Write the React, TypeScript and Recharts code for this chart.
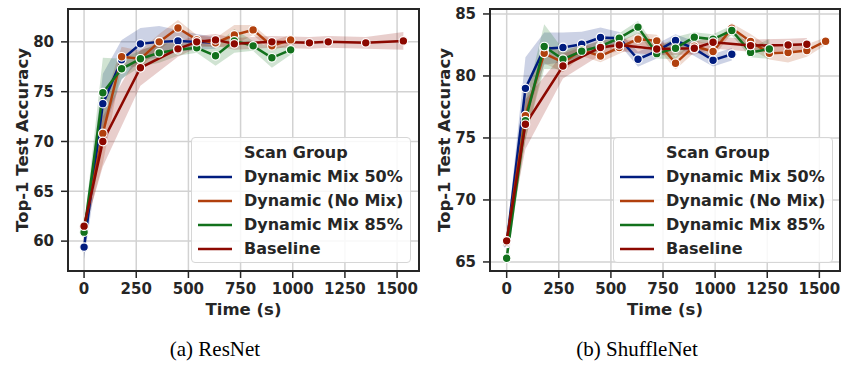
import React from "react";
import {
  ComposedChart,
  Line,
  Area,
  XAxis,
  YAxis,
  CartesianGrid,
  Legend,
  ReferenceArea,
  Label,
} from "recharts";

// ---- tick labels ----
const xTicks = [0, 250, 500, 750, 1000, 1250, 1500];
const resnetYTicks = [60, 65, 70, 75, 80];
const shuffleYTicks = [65, 70, 75, 80, 85];

// ---- series names / colours (seaborn "dark") ----
const groupNames = ["Dynamic Mix 50%", "Dynamic (No Mix)", "Dynamic Mix 85%", "Baseline"];
const groupColors = ["#001c7f", "#b1400d", "#12711c", "#8c0800"];

// ---- (a) ResNet ----
const resMix50Time = [0, 90, 180, 270, 360, 450, 540, 630];
const resMix50Acc = [59.4, 73.8, 78.2, 79.8, 80.0, 80.1, 80.0, 79.9];
const resMix50Ci = [1.2, 3.0, 2.0, 1.6, 1.6, 1.1, 0.8, 0.6];

const resNoMixTime = [0, 90, 180, 270, 360, 450, 540, 630, 720, 810, 900, 990];
const resNoMixAcc = [61.3, 70.8, 78.5, 78.3, 80.0, 81.4, 80.2, 79.9, 80.7, 81.2, 79.6, 80.2];
const resNoMixCi = [0.5, 3.0, 1.0, 0.8, 0.8, 0.8, 0.5, 0.5, 1.0, 0.5, 0.5, 0.5];

const resMix85Time = [0, 90, 180, 270, 360, 450, 540, 630, 720, 810, 900, 990];
const resMix85Acc = [60.9, 74.9, 77.3, 78.3, 78.9, 79.2, 79.4, 78.6, 80.1, 79.6, 78.4, 79.2];
const resMix85Ci = [0.5, 3.5, 1.0, 0.8, 1.0, 0.6, 0.5, 1.0, 1.2, 0.5, 1.0, 0.5];

const resBaseTime = [0, 90, 270, 450, 540, 630, 720, 900, 1080, 1170, 1350, 1530];
const resBaseAcc = [61.5, 70.0, 77.4, 79.3, 80.0, 80.2, 79.8, 80.0, 79.9, 80.0, 79.9, 80.1];
const resBaseCi = [0.5, 2.5, 1.8, 0.8, 0.6, 0.6, 0.6, 0.6, 0.6, 0.6, 0.6, 0.9];

// ---- (b) ShuffleNet ----
const shufMix50Time = [0, 90, 180, 270, 360, 450, 540, 630, 720, 810, 900, 990, 1080];
const shufMix50Acc = [66.5, 79.0, 82.2, 82.3, 82.56, 83.1, 83.05, 81.35, 82.0, 82.86, 82.2, 81.27, 81.75];
const shufMix50Ci = [0.5, 2.5, 1.3, 1.2, 1.0, 0.8, 0.5, 0.6, 0.6, 0.5, 0.6, 0.5, 0.5];

const shufNoMixTime = [0, 90, 180, 270, 360, 450, 540, 630, 720, 810, 900, 990, 1080, 1170, 1260, 1350, 1440, 1530];
const shufNoMixAcc = [66.6, 76.8, 81.83, 81.1, 82.1, 81.6, 82.3, 82.97, 82.83, 81.02, 82.4, 81.97, 83.86, 82.78, 81.83, 81.89, 82.05, 82.8];
const shufNoMixCi = [0.4, 2.0, 0.8, 0.8, 0.5, 0.5, 0.5, 0.5, 0.5, 0.5, 0.5, 0.5, 0.4, 0.6, 0.5, 0.8, 0.5, 0.3];

const shufMix85Time = [0, 90, 180, 270, 360, 450, 540, 630, 720, 810, 900, 990, 1080, 1170, 1260];
const shufMix85Acc = [65.3, 76.4, 82.37, 81.35, 82.0, 82.4, 83.05, 83.94, 81.8, 82.24, 83.13, 82.97, 83.67, 81.9, 82.18];
const shufMix85Ci = [0.4, 1.5, 1.8, 0.8, 0.4, 0.4, 0.4, 0.5, 0.4, 0.9, 0.4, 0.4, 0.4, 0.4, 0.8];

const shufBaseTime = [0, 90, 270, 450, 540, 720, 900, 990, 1170, 1350, 1440];
const shufBaseAcc = [66.7, 76.1, 80.8, 82.3, 82.5, 82.18, 82.24, 82.72, 82.45, 82.5, 82.56];
const shufBaseCi = [0.4, 2.0, 1.0, 0.6, 0.5, 0.5, 0.5, 0.5, 0.5, 0.5, 0.5];

type Point = { t: number; acc: number; band: [number, number] };

const build = (times: number[], acc: number[], ci: number[]): Point[] =>
  times.map((t, i) => ({ t, acc: acc[i], band: [acc[i] - ci[i], acc[i] + ci[i]] }));

const resnetSeries = [
  build(resMix50Time, resMix50Acc, resMix50Ci),
  build(resNoMixTime, resNoMixAcc, resNoMixCi),
  build(resMix85Time, resMix85Acc, resMix85Ci),
  build(resBaseTime, resBaseAcc, resBaseCi),
];

const shuffleSeries = [
  build(shufMix50Time, shufMix50Acc, shufMix50Ci),
  build(shufNoMixTime, shufNoMixAcc, shufNoMixCi),
  build(shufMix85Time, shufMix85Acc, shufMix85Ci),
  build(shufBaseTime, shufBaseAcc, shufBaseCi),
];

const FONT = "'DejaVu Sans', sans-serif";
const INK = "#262626";

const LegendBox = () => (
  <div
    style={{
      boxSizing: "border-box",
      width: "100%",
      height: "100%",
      border: "1px solid #d6d6d6",
      borderRadius: 4,
      background: "rgba(255,255,255,0.85)",
      paddingTop: 3,
      paddingLeft: 6,
      fontFamily: FONT,
      fontWeight: "bold",
      fontSize: 16,
      color: INK,
      lineHeight: "24px",
    }}
  >
    <div style={{ paddingLeft: 46 }}>Scan Group</div>
    {groupNames.map((name, i) => (
      <div key={name} style={{ display: "flex", alignItems: "center", height: 24 }}>
        <svg width={34} height={6} style={{ marginRight: 12 }}>
          <line x1={0} y1={3} x2={34} y2={3} stroke={groupColors[i]} strokeWidth={2.5} />
        </svg>
        <span>{name}</span>
      </div>
    ))}
  </div>
);

interface PanelProps {
  series: Point[][];
  yDomain: [number, number];
  yTicks: number[];
  xDomain: [number, number];
  width: number;
  yAxisWidth: number;
  marginRight: number;
  legendPos: { left: number; top: number; width: number };
}

const Panel = ({ series, yDomain, yTicks, xDomain, width, yAxisWidth, marginRight, legendPos }: PanelProps) => {
  const tickStyle = { fill: INK, fontSize: 15, fontWeight: "bold", fontFamily: FONT };
  return (
    <ComposedChart width={width} height={330} margin={{ top: 9, right: marginRight, bottom: 0, left: 0 }}>
      <CartesianGrid stroke="#d2d2d2" strokeWidth={1.5} />
      <XAxis
        dataKey="t"
        type="number"
        domain={xDomain}
        ticks={xTicks}
        allowDataOverflow
        height={59}
        tick={tickStyle}
        tickSize={7}
        tickMargin={5}
        tickLine={{ stroke: INK, strokeWidth: 1.5 }}
        axisLine={{ stroke: INK, strokeWidth: 2 }}
      >
        <Label
          content={(p: any) => {
            const vb = p.viewBox;
            return (
              <text
                x={vb.x + vb.width / 2}
                y={vb.y + 44}
                textAnchor="middle"
                fill={INK}
                fontSize={16.5}
                fontWeight="bold"
                fontFamily={FONT}
              >
                Time (s)
              </text>
            );
          }}
        />
      </XAxis>
      <YAxis
        type="number"
        domain={yDomain}
        ticks={yTicks}
        allowDataOverflow
        width={yAxisWidth}
        tick={tickStyle}
        tickSize={7}
        tickMargin={7}
        tickLine={{ stroke: INK, strokeWidth: 1.5 }}
        axisLine={{ stroke: INK, strokeWidth: 2 }}
      >
        <Label
          content={(p: any) => {
            const vb = p.viewBox;
            const cx = vb.x + vb.width - 46;
            const cy = vb.y + vb.height / 2;
            return (
              <text
                x={cx}
                y={cy}
                transform={`rotate(-90, ${cx}, ${cy})`}
                textAnchor="middle"
                dominantBaseline="central"
                fill={INK}
                fontSize={16.5}
                fontWeight="bold"
                fontFamily={FONT}
              >
                Top-1 Test Accuracy
              </text>
            );
          }}
        />
      </YAxis>
      <ReferenceArea
        x1={xDomain[0]}
        x2={xDomain[1]}
        y1={yDomain[0]}
        y2={yDomain[1]}
        fill="none"
        stroke={INK}
        strokeWidth={2}
        ifOverflow="visible"
      />
      {series.map((data, i) => (
        <Area
          key={"band" + i}
          data={data}
          dataKey="band"
          type="linear"
          stroke="none"
          fill={groupColors[i]}
          fillOpacity={0.2}
          dot={false}
          activeDot={false}
          isAnimationActive={false}
        />
      ))}
      {series.map((data, i) => (
        <Line
          key={"line" + i}
          data={data}
          dataKey="acc"
          name={groupNames[i]}
          type="linear"
          stroke={groupColors[i]}
          strokeWidth={2.5}
          dot={{ r: 4.3, fill: groupColors[i], stroke: "#ffffff", strokeWidth: 1.2 }}
          activeDot={false}
          isAnimationActive={false}
        />
      ))}
      <Legend
        layout="vertical"
        align="center"
        verticalAlign="middle"
        content={() => <LegendBox />}
        wrapperStyle={{
          position: "absolute",
          left: legendPos.left,
          top: legendPos.top,
          width: legendPos.width,
          height: 126,
        }}
      />
    </ComposedChart>
  );
};

const captionStyle: React.CSSProperties = {
  position: "absolute",
  top: 335,
  width: 300,
  textAlign: "center",
  fontFamily: "'Liberation Serif', 'Times New Roman', serif",
  fontSize: 21,
  color: "#000",
  lineHeight: "28px",
};

export default function App() {
  return (
    <div
      style={{
        position: "absolute",
        left: 0,
        top: 0,
        width: 842,
        height: 366,
        background: "#fff",
        fontFamily: FONT,
      }}
    >
      <div style={{ position: "absolute", left: 0, top: 0 }}>
        <Panel
          series={resnetSeries}
          yDomain={[57, 83.3]}
          yTicks={resnetYTicks}
          xDomain={[-77, 1605]}
          width={430}
          yAxisWidth={68}
          marginRight={11}
          legendPos={{ left: 191, top: 137, width: 220 }}
        />
      </div>
      <div style={{ position: "absolute", left: 421, top: 0 }}>
        <Panel
          series={shuffleSeries}
          yDomain={[64.27, 85.4]}
          yTicks={shuffleYTicks}
          xDomain={[-80, 1599]}
          width={421}
          yAxisWidth={69}
          marginRight={2}
          legendPos={{ left: 192, top: 137, width: 220 }}
        />
      </div>
      <div style={{ ...captionStyle, left: 65 }}>(a) ResNet</div>
      <div style={{ ...captionStyle, left: 487 }}>(b) ShuffleNet</div>
    </div>
  );
}
